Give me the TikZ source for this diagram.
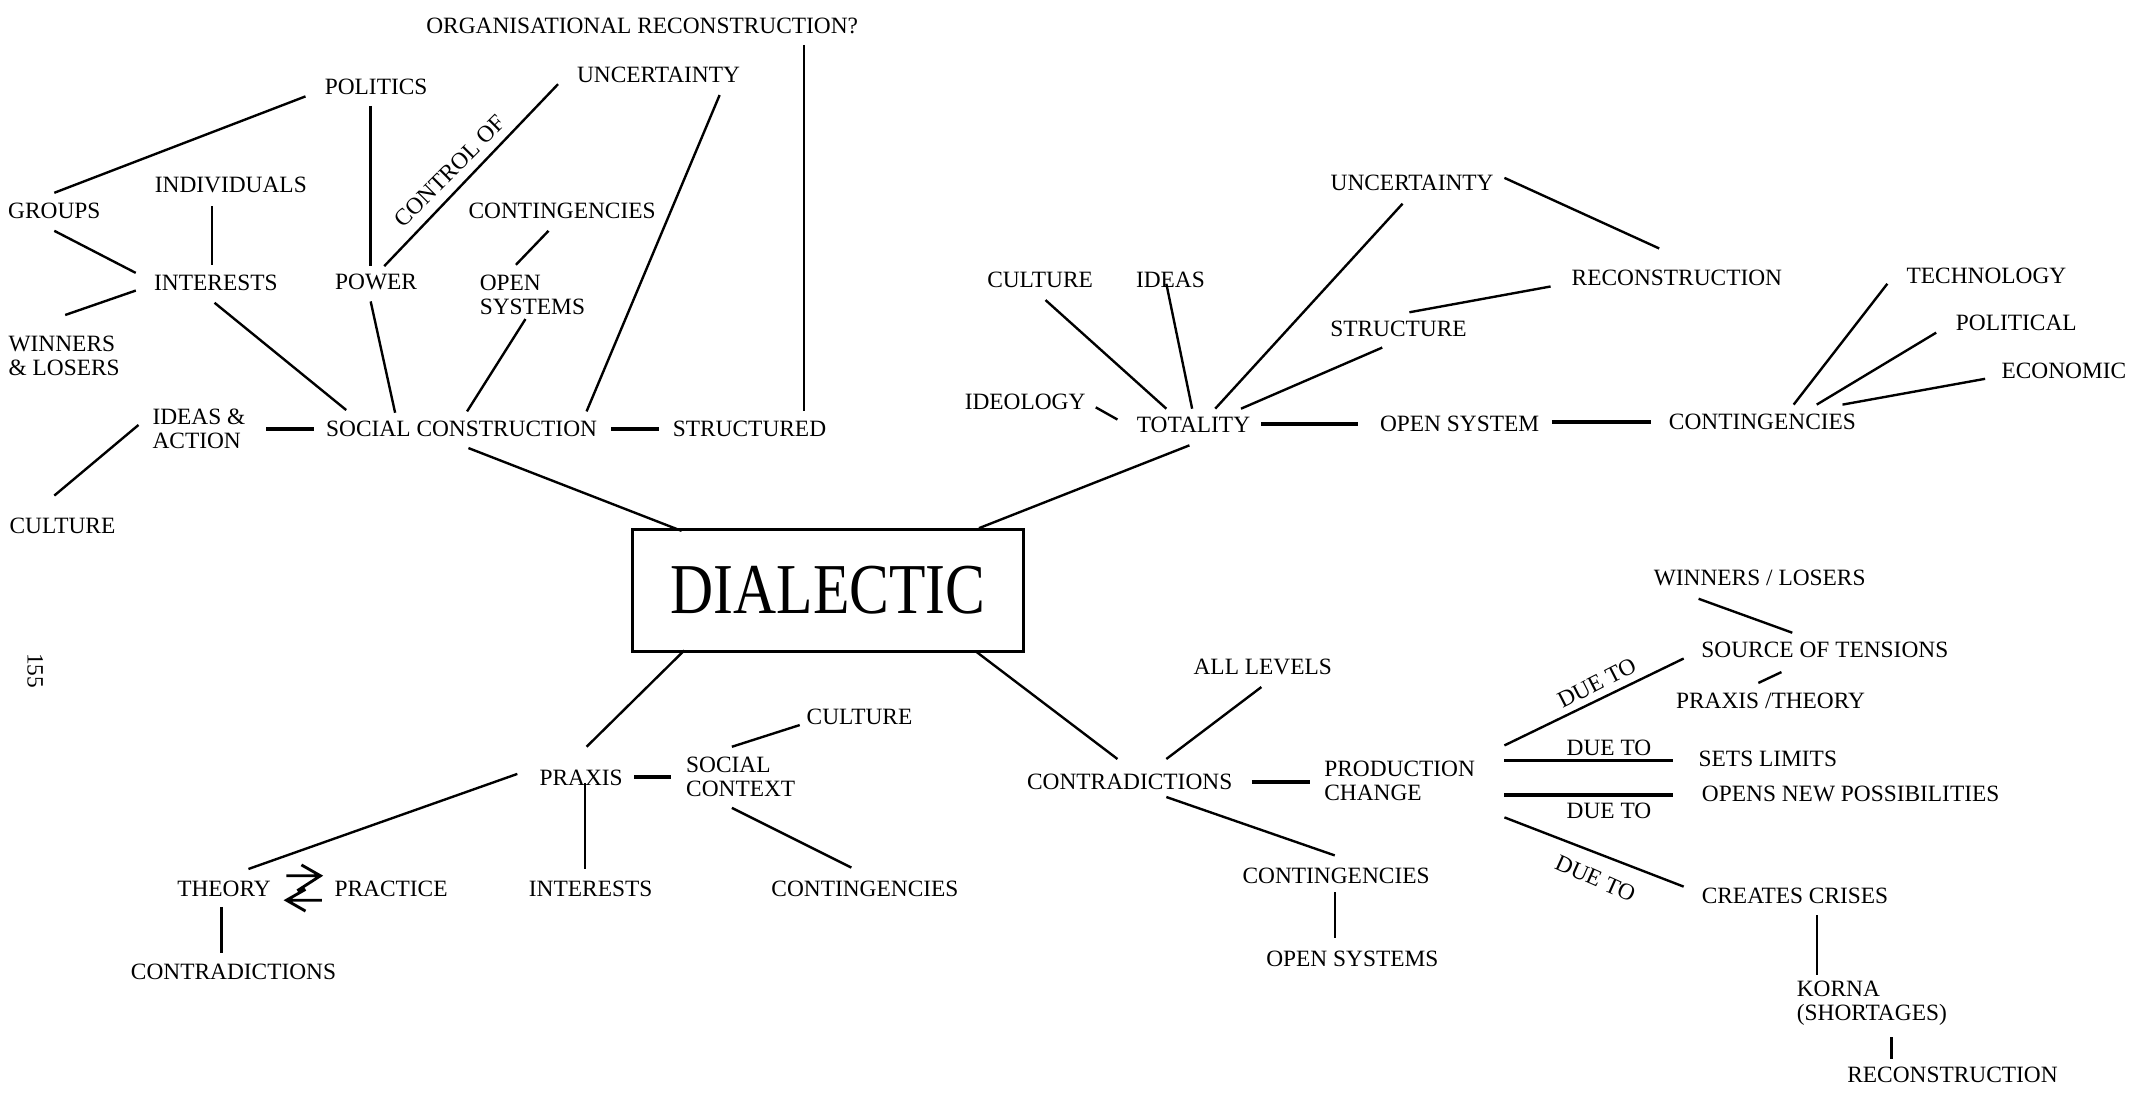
\documentclass[tikz,border=0pt]{standalone}
\usepackage{fontspec}
\setmainfont{Liberation Serif}
\newcommand\lk[5][ln]{\draw[#1] ([shift={(#3)}]#2) -- ([shift={(#5)}]#4);}
\begin{document}
\begin{tikzpicture}[x=0.02cm,y=-0.02cm,
  lbl/.style={font=\fontsize{9.8}{10.2}\selectfont, inner sep=0pt},
  lbll/.style={lbl, align=left, anchor=west},
  ln/.style={line width=1pt},
  thk/.style={line width=1.6pt},
  mid/.style={line width=1.3pt},
  bigbox/.style={draw, line width=1.2pt, minimum width=5.76cm, minimum height=1.8cm, inner sep=0pt,
    font=\fontsize{25}{28}\selectfont}]
\useasboundingbox (0,0) rectangle (1568,813);

% ---- centre
\node[bigbox] (dial) at (610,435) {\scalebox{1}[1.2]{DIALECTIC}};

% ---- top left
\node[lbl] (orgrec) at (473,19) {ORGANISATIONAL RECONSTRUCTION?};
\node[lbl] (politics) at (277,64) {POLITICS};
\node[lbl] (uncl) at (485,55) {UNCERTAINTY};
\node[lbl] (groups) at (40,155) {GROUPS};
\node[lbl] (indiv) at (170,136) {INDIVIDUALS};
\node[lbl] (contl) at (414,155) {CONTINGENCIES};
\node[lbl] (interl) at (159,208) {INTERESTS};
\node[lbl] (power) at (277,208) {POWER};
\node[lbll] (opensysl) at (353,217) {OPEN\\SYSTEMS};
\node[lbll] (winners) at (6,262) {WINNERS\\\& LOSERS};
\node[lbll] (ideas) at (112,316) {IDEAS \&\\ACTION};
\node[lbl] (socc) at (340,316) {SOCIAL CONSTRUCTION};
\node[lbl] (structured) at (552,316) {STRUCTURED};
\node[lbl] (culturel) at (46,387) {CULTURE};
\node[lbl, rotate=45] (controlof) at (331,126) {CONTROL OF};
\node[lbl, rotate=-90] (pg) at (26,494) {155};

\lk{groups.center}{0,-13}{politics.center}{-52,7}
\lk{politics.center}{-4,14}{power.center}{-4,-12}
\lk{power.center}{6,-12}{uncl.center}{-74,7}
\lk{indiv.center}{-14,16}{interl.center}{-3,-13}
\lk{groups.center}{0,15}{interl.center}{-59,-7}
\lk{interl.center}{-59,6}{winners.west}{42,-30}
\lk{contl.center}{-10,15}{opensysl.west}{27,-22}
\lk{interl.center}{-1,15}{socc.center}{-85,-14}
\lk{power.center}{-4,14}{socc.center}{-49,-12}
\lk{opensysl.west}{34,18}{socc.center}{4,-13}
\lk{uncl.center}{45,15}{socc.center}{92,-13}
\lk{orgrec.center}{119,14}{structured.center}{40,-13}
\lk[thk]{socc.center}{110,0}{structured.center}{-67,0}
\lk[thk]{ideas.west}{84,0}{socc.center}{-109,0}
\lk{ideas.west}{-10,-3}{culturel.center}{-6,-22}
\lk{socc.center}{5,14}{dial.center}{-108,-44}

% ---- top right
\node[lbl] (uncr) at (1040,135) {UNCERTAINTY};
\node[lbl] (culturer) at (766,206) {CULTURE};
\node[lbl] (ideasr) at (862,206) {IDEAS};
\node[lbl] (recon) at (1235,205) {RECONSTRUCTION};
\node[lbl] (structure) at (1030,242) {STRUCTURE};
\node[lbl] (tech) at (1463,203) {TECHNOLOGY};
\node[lbl] (political) at (1485,238) {POLITICAL};
\node[lbl] (economic) at (1520,273) {ECONOMIC};
\node[lbl] (ideology) at (755,296) {IDEOLOGY};
\node[lbl] (totality) at (879,313) {TOTALITY};
\node[lbl] (opensys) at (1075,312) {OPEN SYSTEM};
\node[lbl] (contr) at (1298,311) {CONTINGENCIES};

\lk{uncr.center}{68,-4}{recon.center}{-13,-22}
\lk{uncr.center}{-7,15}{totality.center}{16,-12}
\lk{culturer.center}{4,15}{totality.center}{-20,-12}
\lk{ideasr.center}{-3,3}{totality.center}{-1,-12}
\lk{structure.center}{8,-12}{recon.center}{-93,6}
\lk{structure.center}{-12,14}{totality.center}{35,-12}
\lk{ideology.center}{52,4}{totality.center}{-56,-4}
\lk[thk]{totality.center}{50,-1}{opensys.center}{-75,0}
\lk[thk]{opensys.center}{68,-1}{contr.center}{-82,0}
\lk{contr.center}{23,-13}{tech.center}{-73,6}
\lk{contr.center}{40,-13}{political.center}{-59,7}
\lk{contr.center}{59,-13}{economic.center}{-58,6}
\lk{totality.center}{-3,15}{dial.center}{111,-46}

% ---- bottom left
\node[lbl] (culturebl) at (633,528) {CULTURE};
\node[lbl] (praxis) at (428,573) {PRAXIS};
\node[lbll] (soccont) at (505,572) {SOCIAL\\CONTEXT};
\node[lbl] (theory) at (165,655) {THEORY};
\node[lbl] (practice) at (288,655) {PRACTICE};
\node[lbl] (interb) at (435,655) {INTERESTS};
\node[lbl] (contbl) at (637,655) {CONTINGENCIES};
\node[lbl] (contradbl) at (172,716) {CONTRADICTIONS};

\lk{dial.center}{-106,44}{praxis.center}{4,-23}
\lk[thk]{praxis.center}{39,-1}{soccont.west}{-11,0}
\lk{soccont.west}{34,-22}{culturebl.center}{-44,6}
\lk{praxis.center}{-47,-3}{theory.center}{18,-15}
\lk{praxis.center}{3,4}{interb.center}{-4,-15}
\lk{soccont.west}{34,23}{contbl.center}{-10,-16}
\lk{theory.center}{-2,13}{contradbl.center}{-9,-14}
\draw[line width=1.2pt, shift={(theory.center)}] (46,-10) -- (71,-10) (57,-18) -- (71,-10) -- (54,1)
  (72,8) -- (46,8) (60,0) -- (46,8) -- (60,16);

% ---- bottom right
\node[lbl] (alllev) at (930,491) {ALL LEVELS};
\node[lbl] (contradr) at (832,576) {CONTRADICTIONS};
\node[lbll] (prodch) at (975,575) {PRODUCTION\\CHANGE};
\node[lbl] (contbr) at (984,645) {CONTINGENCIES};
\node[lbl] (opensysb) at (996,706) {OPEN SYSTEMS};
\node[lbl] (winlos) at (1296,426) {WINNERS / LOSERS};
\node[lbl] (source) at (1344,479) {SOURCE OF TENSIONS};
\node[lbl] (praxth) at (1304,516) {PRAXIS /THEORY};
\node[lbl] (sets) at (1302,559) {SETS LIMITS};
\node[lbl] (opens) at (1363,585) {OPENS NEW POSSIBILITIES};
\node[lbl] (creates) at (1322,660) {CREATES CRISES};
\node[lbll] (korna) at (1323,739) {KORNA\\(SHORTAGES)};
\node[lbl] (reconb) at (1438,792) {RECONSTRUCTION};
\node[lbl, rotate=27] (due1) at (1176,503) {DUE TO};
\node[lbl] (due2) at (1185,551) {DUE TO};
\node[lbl] (due3) at (1185,597) {DUE TO};
\node[lbl, rotate=-24] (due4) at (1175,647) {DUE TO};

\lk{dial.center}{109,45}{contradr.center}{-9,-17}
\lk{alllev.center}{-1,15}{contradr.center}{27,-17}
\lk[thk]{contradr.center}{90,0}{prodch.west}{-10,1}
\lk{contradr.center}{27,11}{contbr.center}{-1,-15}
\lk{contbr.center}{-1,12}{opensysb.center}{-13,-15}
\lk{prodch.west}{133,-26}{source.center}{-104,6}
\lk[mid]{prodch.west}{133,-15}{sets.center}{-70,1}
\lk[mid]{prodch.west}{133,10.5}{opens.center}{-131,0.5}
\lk{prodch.west}{133,27}{creates.center}{-82,-7}
\lk{winlos.center}{-45,15}{source.center}{-24,-13}
\lk{source.center}{-32,16}{praxth.center}{-9,-13}
\lk{creates.center}{16,14}{korna.west}{15,-21}
\lk{korna.west}{70,25}{reconb.center}{-45,-12}
\end{tikzpicture}
\end{document}
